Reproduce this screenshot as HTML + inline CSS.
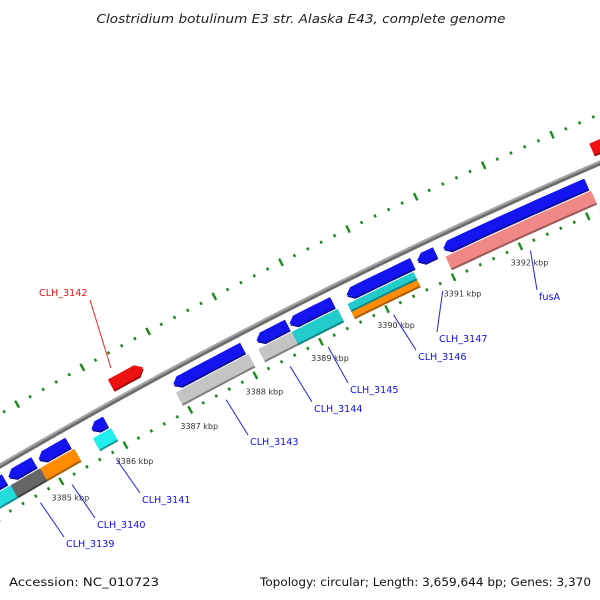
<!DOCTYPE html>
<html><head><meta charset="utf-8"><title>Genome map</title>
<style>
html,body{margin:0;padding:0;background:#fff;}
svg{display:block;}
text{font-family:"DejaVu Sans","Liberation Sans",sans-serif;}
</style></head>
<body>
<svg id="map" width="600" height="600" viewBox="0 0 600 600" xmlns="http://www.w3.org/2000/svg">
<rect width="600" height="600" fill="#fff"/>
<text x="301" y="23" text-anchor="middle" font-size="12.5" font-style="italic" fill="#222" textLength="409" lengthAdjust="spacingAndGlyphs">Clostridium botulinum E3 str. Alaska E43, complete genome</text>
<g id="ticks"></g>
<g id="backbone"></g>
<g id="features"></g>
<g id="labels"></g>
<text x="9" y="586" font-size="11.5" fill="#111" textLength="150" lengthAdjust="spacingAndGlyphs">Accession: NC_010723</text>
<text x="591" y="586" font-size="11.5" fill="#111" text-anchor="end" textLength="331" lengthAdjust="spacingAndGlyphs">Topology: circular; Length: 3,659,644 bp; Genes: 3,370</text>
</svg>
<script>
// data (kbp positions)
const tickLabelKbp = [3385,3386,3387,3388,3389,3390,3391,3392];
const geneStart = [3383.6,3384.41,3384.88,3385.70,3386.96,3388.23,3388.73,3389.59,3390.65,3391.04];
const geneEnd   = [3384.35,3384.81,3385.34,3385.92,3388.02,3388.70,3389.38,3390.58,3390.92,3393.16];
const cdsStart = [3383.6,3384.38,3384.84,3385.66,3386.94,3388.20,3388.71,3389.55,3391.02];
const cdsEnd   = [3384.38,3384.84,3385.37,3385.94,3388.05,3388.75,3389.40,3390.54,3393.18];
const cdsColor = ['#22dddd','#666666','#ff8c00','#22eeee','#c4c4c4','#c4c4c4','#22cccc','split','#f08888'];
const redStart = [3386.22,3393.41];
const redEnd   = [3386.71,3394.2];
const labelText = ['CLH_3139','CLH_3140','CLH_3141','CLH_3143','CLH_3144','CLH_3145','CLH_3146','CLH_3147','fusA'];
const labelCds  = [1,2,3,4,5,6,7,-1,8];
const labelX = [66,97,142,250,314,350,418,439,539];
const labelY = [547,528,503,445,412,393,360,342,300];

const NS='http://www.w3.org/2000/svg';
function P(k,r){const a=(28.65-0.769*(k-3386.5))*Math.PI/180;return [2791-r*Math.sin(a),5247-r*Math.cos(a)];}
function mk(tag,attrs,parent){const e=document.createElementNS(NS,tag);for(const a in attrs)e.setAttribute(a,attrs[a]);parent.appendChild(e);return e;}
function band(k1,k2,r1,r2,arrow){
  const pts=[];const ah=0.09;const rm=(r1+r2)/2;
  let a1=k1,a2=k2;
  if(arrow===-1)a1=k1+ah; if(arrow===1)a2=k2-ah;
  const n=12;
  for(let i=0;i<=n;i++)pts.push(P(a1+(a2-a1)*i/n,r2));
  if(arrow===1)pts.push(P(k2,rm));
  for(let i=n;i>=0;i--)pts.push(P(a1+(a2-a1)*i/n,r1));
  if(arrow===-1)pts.push(P(k1,rm));
  return pts.map(p=>p[0].toFixed(1)+','+p[1].toFixed(1)).join(' ');
}
function shade(c,f){const n=parseInt(c.slice(1),16);let r=(n>>16)&255,g=(n>>8)&255,b=n&255;r=Math.round(r*f);g=Math.round(g*f);b=Math.round(b*f);return 'rgb('+r+','+g+','+b+')';}
function feat(parent,k1,k2,r1,r2,col,arrow,name){
  const g=mk('g',{},parent);
  
  
  mk('polygon',{points:band(k1,k2,r1-2,r2-2,arrow),fill:shade(col,0.65)},g);
  mk('polygon',{points:band(k1,k2,r1,r2,arrow),fill:col},g);
}

// ticks
const tg=document.getElementById('ticks');
for(let i=0;i<=65;i++){
  const k=3382+i*0.2;const major=Math.abs(k-Math.round(k))<1e-6;
  [5492,5581].forEach(r=>{
    const a=P(k,major?r-4:r-1.5),b=P(k,major?r+4:r+1.5);
    const l=mk('line',{x1:a[0],y1:a[1],x2:b[0],y2:b[1],stroke:'#1a8a1a','stroke-width':2.4},tg);
    
    
  });
}
tickLabelKbp.forEach(k=>{
  const p=P(k,5492);
  const t=mk('text',{x:p[0]+9,y:p[1]+19,'font-size':8,'text-anchor':'middle',fill:'#333'},tg);
  t.textContent=k+' kbp';
  
  
});

// backbone
const bb=document.getElementById('backbone');
function arc(r){const pts=[];for(let k=3382;k<=3395;k+=0.25){const p=P(k,r);pts.push(p[0].toFixed(1)+','+p[1].toFixed(1));}return pts.join(' ');}
mk('polyline',{points:arc(5536),fill:'none',stroke:'#8a8a8a','stroke-width':5},bb);
mk('polyline',{points:arc(5535),fill:'none',stroke:'#6a6a6a','stroke-width':2},bb);
mk('polyline',{points:arc(5537.5),fill:'none',stroke:'#a8a8a8','stroke-width':1.5},bb);

// features
const fg=document.getElementById('features');
for(let i=0;i<geneStart.length;i++)feat(fg,geneStart[i],geneEnd[i],5517,5528,'#1414f0',-1,'gene-'+i);
for(let i=0;i<cdsStart.length;i++){
  if(cdsColor[i]==='split'){
    feat(fg,cdsStart[i],cdsEnd[i],5499,5506,'#ff8c00',0,'cds-orange-'+i);
    feat(fg,cdsStart[i],cdsEnd[i],5507,5514,'#22cccc',0,'cds-'+i);
  } else feat(fg,cdsStart[i],cdsEnd[i],5501,5514,cdsColor[i],0,'cds-'+i);
}
for(let i=0;i<redStart.length;i++)feat(fg,redStart[i],redEnd[i],5546,5558,'#ee1111',1,'red-feature-'+i);

// labels
const lg=document.getElementById('labels');
for(let i=0;i<labelText.length;i++){
  let p;
  if(labelCds[i]>=0){const c=labelCds[i];p=P((cdsStart[c]+cdsEnd[c])/2,5484);}
  else p=P((geneStart[8]+geneEnd[8])/2,5484);
  const l=mk('line',{x1:p[0],y1:p[1],x2:labelX[i]-2,y2:labelY[i]-10,stroke:'#2020ee','stroke-width':1},lg);
  
  
  const t=mk('text',{x:labelX[i],y:labelY[i],'font-size':9.6,fill:'#1010ee'},lg);
  t.textContent=labelText[i];
  
  
}
{
  const p=P((redStart[0]+redEnd[0])/2,5560);
  const l=mk('line',{x1:p[0]-12,y1:p[1]-1,x2:90,y2:300,stroke:'#ee2020','stroke-width':1},lg);
  
  
  const t=mk('text',{x:39,y:296,'font-size':9.6,fill:'#ee1111'},lg);
  t.textContent='CLH_3142';
  
  
}
</script>
</body></html>
